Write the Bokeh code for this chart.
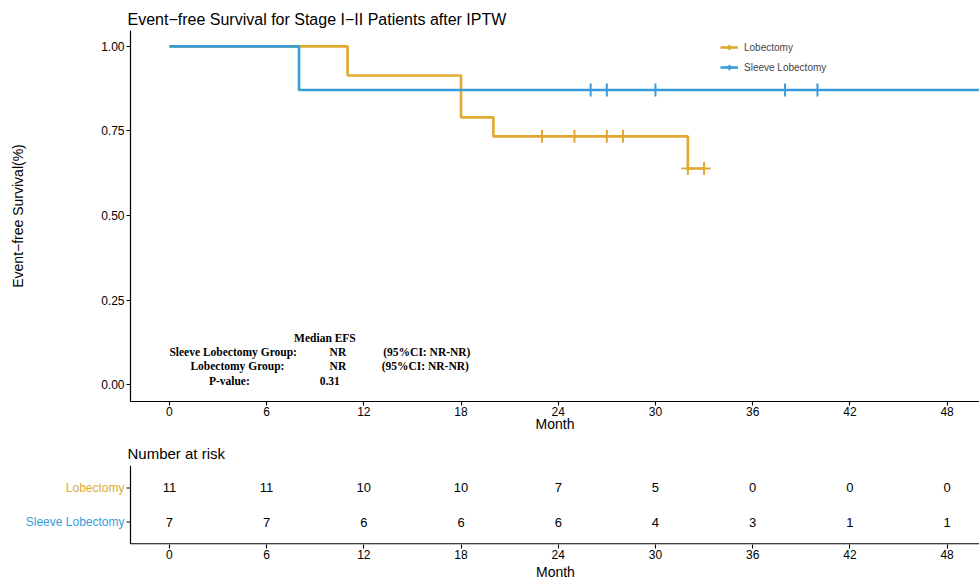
from bokeh.plotting import figure
from bokeh.models import (Range1d, FixedTicker, Legend, LegendItem, Label, ColumnDataSource, Title)
from bokeh.layouts import column, row
from bokeh.core.properties import value
from bokeh.embed import file_html
from bokeh.resources import INLINE

# ---------------- data ----------------
sleeve_time = [0, 8, 52]
sleeve_surv = [1.0, 0.871, 0.871]
sleeve_censor_t = [26, 27, 30, 38, 40]

lobe_time = [0, 11, 18, 20, 32, 33]
lobe_surv = [1.0, 0.914, 0.790, 0.734, 0.639, 0.639]
lobe_censor_t = [23, 25, 27, 28, 32, 33]
lobe_censor_s = [0.734, 0.734, 0.734, 0.734, 0.639, 0.639]

x_ticks = [0, 6, 12, 18, 24, 30, 36, 42, 48]
y_ticks = [0.0, 0.25, 0.5, 0.75, 1.0]
y_tick_labels = ["0.00", "0.25", "0.50", "0.75", "1.00"]

groups = ["Lobectomy", "Sleeve Lobectomy"]
risk_lobe = [11, 11, 10, 10, 7, 5, 0, 0, 0]
risk_sleeve = [7, 7, 6, 6, 6, 4, 3, 1, 1]

ORANGE = "#E1A92F"
BLUE = "#389CD8"
FONT = "Liberation Sans"
SERIF = "Liberation Serif"

W = 979
LEFT = 130
X0, X1 = -2.4, 50.0
PX = (X1 - X0) / (W - LEFT)          # data units per pixel on x
XL = X0 - LEFT * PX                  # risk table frame starts at the canvas edge


def style_axis(ax, label_standoff=-3):
    ax.axis_line_color = "black"
    ax.axis_line_width = 1.2
    ax.major_tick_line_color = "black"
    ax.major_tick_line_width = 1.1
    ax.major_tick_in = 0
    ax.major_tick_out = 4
    ax.minor_tick_line_color = None
    ax.major_label_text_font = FONT
    ax.major_label_text_font_size = "12px"
    ax.major_label_text_color = "black"
    ax.axis_label_text_font = FONT
    ax.axis_label_text_font_size = "14px"
    ax.axis_label_text_font_style = "normal"
    ax.axis_label_text_color = "black"
    ax.major_label_standoff = 1
    ax.axis_label_standoff = label_standoff


# ---------------- main KM plot ----------------
p = figure(width=W, height=435, output_backend="svg", toolbar_location=None,
           x_range=Range1d(X0, X1), y_range=Range1d(-0.05, 1.047),
           min_border_left=LEFT, min_border_right=0, min_border_top=30, min_border_bottom=34)
p.title.text = "Event\u2212free Survival for Stage I\u2212II Patients after IPTW"
p.title.text_font = FONT
p.title.text_font_size = "16px"
p.title.text_font_style = "normal"
p.title.text_color = "black"
p.title.standoff = 6
p.title.offset = -3
p.grid.visible = False
p.outline_line_color = None
style_axis(p.xaxis[0])
style_axis(p.yaxis[0])

p.xaxis.ticker = FixedTicker(ticks=x_ticks)
p.yaxis.ticker = FixedTicker(ticks=y_ticks)
p.yaxis.major_label_overrides = {t: l for t, l in zip(y_ticks, y_tick_labels)}
p.xaxis.axis_label = "Month"
p.yaxis.axis_label = "Event\u2212free Survival(%)"
p.yaxis.axis_label_standoff = 72
p.yaxis.major_label_standoff = 2

r_lobe = p.step(lobe_time, lobe_surv, mode="after", line_color=ORANGE, line_width=2.6)
r_sleeve = p.step(sleeve_time, sleeve_surv, mode="after", line_color=BLUE, line_width=2.6)
c_lobe = p.scatter(lobe_censor_t, lobe_censor_s, marker="cross", size=13,
                   line_color=ORANGE, line_width=2)
c_sleeve = p.scatter(sleeve_censor_t, [sleeve_surv[1]] * len(sleeve_censor_t), marker="cross",
                     size=13, line_color=BLUE, line_width=2)

legend = Legend(items=[LegendItem(label="Lobectomy", renderers=[r_lobe, c_lobe]),
                       LegendItem(label="Sleeve Lobectomy", renderers=[r_sleeve, c_sleeve])],
                border_line_color=None, background_fill_alpha=0,
                label_text_font=FONT, label_text_font_size="10px", glyph_width=18,
                glyph_height=14, spacing=6, padding=0, label_standoff=6, margin=0)
legend.location = (590, 327)
p.add_layout(legend)

# annotation text block (data coordinates)
ann = [
    ("Median EFS", 9.6, 0.139, "center"),
    ("Sleeve Lobectomy Group:", 0.0, 0.095, "left"),
    ("NR", 10.4, 0.095, "center"),
    ("(95%CI: NR-NR)", 13.2, 0.095, "left"),
    ("Lobectomy Group:", 4.2, 0.054, "center"),
    ("NR", 10.4, 0.054, "center"),
    ("(95%CI: NR-NR)", 13.1, 0.054, "left"),
    ("P-value:", 3.7, 0.012, "center"),
    ("0.31", 9.9, 0.012, "center"),
]
for txt, x, y, al in ann:
    p.add_layout(Label(x=x, y=y, text=txt, text_font=SERIF, text_font_size="11.5px",
                       text_font_style="bold", text_align=al, text_baseline="middle",
                       text_color="black"))

# ---------------- risk table ----------------
YLO, YHI = -0.157, 2.157
q = figure(width=W, height=144, output_backend="svg", toolbar_location=None,
           x_range=Range1d(XL, X1), y_range=Range1d(YLO, YHI),
           min_border_left=0, min_border_right=0, min_border_top=30, min_border_bottom=31)
q.title.text = "Number at risk"
q.title.text_font = FONT
q.title.text_font_size = "15px"
q.title.text_font_style = "normal"
q.title.text_color = "black"
q.title.standoff = 8
q.title.offset = LEFT - 3
q.grid.visible = False
q.outline_line_color = None
q.yaxis.visible = False
style_axis(q.xaxis[0])
q.xaxis.axis_line_color = None
q.xaxis.ticker = FixedTicker(ticks=x_ticks)
q.add_layout(Title(text="Month", align="left", offset=(LEFT + W) / 2 - 19, text_font=FONT,
                   text_font_size="14px", text_font_style="normal", text_color="black",
                   standoff=0), "below")

row_y = {"Lobectomy": 1.5, "Sleeve Lobectomy": 0.5}
row_col = {"Lobectomy": ORANGE, "Sleeve Lobectomy": BLUE}

# axis lines of the table (left and bottom), drawn from the data range
ydy = (YHI - YLO) / 81.0
q.segment(x0=[X0, X0], y0=[YLO + 0.6 * ydy, YLO + 0.6 * ydy], x1=[X0, X1],
          y1=[YHI, YLO + 0.6 * ydy], line_color="black", line_width=1.2)
q.segment(x0=[X0 - 4 * PX] * 2, y0=[row_y[g] for g in groups], x1=[X0] * 2,
          y1=[row_y[g] for g in groups], line_color="black", line_width=1.1)
q.text(x=[X0 - 6 * PX] * 2, y=[row_y[g] for g in groups], text=groups,
       text_color=[row_col[g] for g in groups], text_font=value(FONT), text_font_size="12px",
       text_align="right", text_baseline="middle")

src = ColumnDataSource(dict(
    x=x_ticks + x_ticks,
    y=[row_y["Lobectomy"]] * len(x_ticks) + [row_y["Sleeve Lobectomy"]] * len(x_ticks),
    t=[str(v) for v in risk_lobe] + [str(v) for v in risk_sleeve]))
q.text(x="x", y="y", text="t", source=src, text_font=value(FONT), text_font_size="13px",
       text_align="center", text_baseline="middle", text_color="black")

layout = column(row(p), row(q), spacing=0)
open("out.html", "w").write(file_html(layout, INLINE))
